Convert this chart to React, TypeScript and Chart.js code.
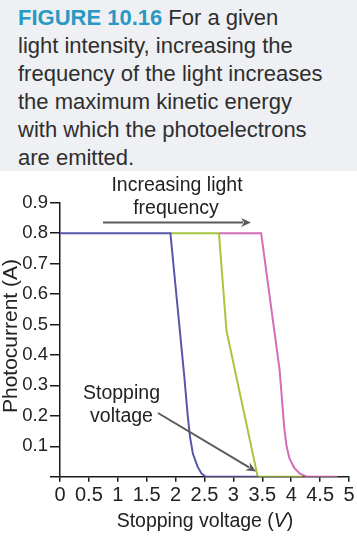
import React, { useEffect, useRef } from "react";
import { Chart, registerables } from "chart.js";

Chart.register(...registerables);

// ---- data ----
const blueVoltage = [0, 1.91, 2.15, 2.21, 2.25, 2.3, 2.38, 2.45, 2.52, 3.43];
const blueCurrent = [0.8, 0.8, 0.33, 0.2, 0.13, 0.075, 0.033, 0.01, 0, 0];
const greenVoltage = [1.91, 2.75, 2.88, 3.42, 4.2];
const greenCurrent = [0.8, 0.8, 0.48, 0, 0];
const pinkVoltage = [2.75, 3.48, 3.8, 3.88, 3.92, 3.97, 4.05, 4.15, 4.27, 4.8];
const pinkCurrent = [0.8, 0.8, 0.35, 0.16, 0.1, 0.06, 0.03, 0.01, 0, 0];

const xTicks = [0, 0.5, 1, 1.5, 2, 2.5, 3, 3.5, 4, 4.5, 5];
const xTickLabels = ["0", "0.5", "1", "1.5", "2", "2.5", "3", "3.5", "4", "4.5", "5"];
const yTicks = [0, 0.1, 0.2, 0.3, 0.4, 0.5, 0.6, 0.7, 0.8, 0.9];
const yTickLabels = ["", "0.1", "0.2", "0.3", "0.4", "0.5", "0.6", "0.7", "0.8", "0.9"];

const titleLines = [
  "light intensity, increasing the",
  "frequency of the light increases",
  "the maximum kinetic energy",
  "with which the photoelectrons",
  "are emitted.",
];

const FONT = '"Liberation Sans", Arial, Helvetica, sans-serif';

const annotationPlugin = {
  id: "annotations",
  afterDraw(chart: any) {
    const ctx = chart.ctx as CanvasRenderingContext2D;
    ctx.save();
    ctx.fillStyle = "#222";
    ctx.textBaseline = "alphabetic";
    ctx.textAlign = "center";
    ctx.font = `19.5px ${FONT}`;
    ctx.fillText("Increasing light", 177, 191);
    ctx.fillText("frequency", 176, 213.5);
    ctx.fillText("Stopping", 121.5, 399);
    ctx.fillText("voltage", 121.5, 421.5);

    const arrow = (x1: number, y1: number, x2: number, y2: number) => {
      const ang = Math.atan2(y2 - y1, x2 - x1);
      const hl = 10;
      const hw = 4.5;
      ctx.strokeStyle = "#5a5a5a";
      ctx.fillStyle = "#5a5a5a";
      ctx.lineWidth = 2;
      ctx.beginPath();
      ctx.moveTo(x1, y1);
      ctx.lineTo(x2 - Math.cos(ang) * hl * 0.8, y2 - Math.sin(ang) * hl * 0.8);
      ctx.stroke();
      ctx.beginPath();
      ctx.moveTo(x2, y2);
      ctx.lineTo(
        x2 - Math.cos(ang) * hl - Math.sin(ang) * hw,
        y2 - Math.sin(ang) * hl + Math.cos(ang) * hw
      );
      ctx.lineTo(
        x2 - Math.cos(ang) * hl * 0.7,
        y2 - Math.sin(ang) * hl * 0.7
      );
      ctx.lineTo(
        x2 - Math.cos(ang) * hl + Math.sin(ang) * hw,
        y2 - Math.sin(ang) * hl - Math.cos(ang) * hw
      );
      ctx.closePath();
      ctx.fill();
    };
    arrow(103, 222.5, 251, 222.5);
    arrow(158, 413, 256, 471.5);

    // x axis title with italic V
    ctx.fillStyle = "#222";
    ctx.textAlign = "left";
    const p1 = "Stopping voltage (";
    const p2 = "V";
    const p3 = ")";
    ctx.font = `19.5px ${FONT}`;
    const w1 = ctx.measureText(p1).width;
    const w3 = ctx.measureText(p3).width;
    ctx.font = `italic 19.5px ${FONT}`;
    const w2 = ctx.measureText(p2).width;
    const total = w1 + w2 + w3;
    let x = 205 - total / 2;
    const by = 527;
    ctx.font = `19.5px ${FONT}`;
    ctx.fillText(p1, x, by);
    x += w1;
    ctx.font = `italic 19.5px ${FONT}`;
    ctx.fillText(p2, x, by);
    x += w2;
    ctx.font = `19.5px ${FONT}`;
    ctx.fillText(p3, x, by);

    // y axis title
    ctx.save();
    ctx.translate(16.5, 336);
    ctx.rotate(-Math.PI / 2);
    ctx.textAlign = "center";
    ctx.font = `21px ${FONT}`;
    ctx.fillText("Photocurrent (A)", 0, 0);
    ctx.restore();
    ctx.restore();
  },
};

export default function App() {
  const canvasRef = useRef<HTMLCanvasElement | null>(null);

  useEffect(() => {
    if (!canvasRef.current) return;
    const mk = (xs: number[], ys: number[]) => xs.map((x, i) => ({ x, y: ys[i] }));
    const chart = new Chart(canvasRef.current, {
      type: "line",
      data: {
        datasets: [
          {
            label: "blue",
            data: mk(blueVoltage, blueCurrent),
            borderColor: "#5657a9",
            borderWidth: 2,
            pointRadius: 0,
            tension: 0,
            fill: false,
          },
          {
            label: "green",
            data: mk(greenVoltage, greenCurrent),
            borderColor: "#a5c63e",
            borderWidth: 2,
            pointRadius: 0,
            tension: 0,
            fill: false,
          },
          {
            label: "pink",
            data: mk(pinkVoltage, pinkCurrent),
            borderColor: "#d56cb9",
            borderWidth: 2,
            pointRadius: 0,
            tension: 0,
            fill: false,
          },
        ],
      },
      options: {
        animation: false,
        responsive: false,
        maintainAspectRatio: false,
        layout: { padding: { top: 202.7, right: 8, left: 0, bottom: 0 } },
        plugins: {
          legend: { display: false },
          tooltip: { enabled: false },
        },
        scales: {
          x: {
            type: "linear",
            min: 0,
            max: 5,
            afterBuildTicks: (scale: any) => {
              scale.ticks = xTicks.map((v) => ({ value: v }));
            },
            afterFit: (scale: any) => {
              scale.height = 60.3;
            },
            ticks: {
              autoSkip: false,
              maxRotation: 0,
              minRotation: 0,
              padding: 2,
              color: "#222",
              font: { family: FONT, size: 20 },
              callback: (_v: any, i: number) => xTickLabels[i],
            },
            grid: {
              drawOnChartArea: false,
              drawTicks: true,
              tickLength: 5,
              color: "#1a1a1a",
              lineWidth: 1.5,
            },
            border: { display: true, color: "#1a1a1a", width: 1.5 },
          },
          y: {
            type: "linear",
            min: 0,
            max: 0.9,
            afterBuildTicks: (scale: any) => {
              scale.ticks = yTicks.map((v) => ({ value: v }));
            },
            afterFit: (scale: any) => {
              scale.width = 60;
            },
            ticks: {
              autoSkip: false,
              padding: 2,
              color: "#222",
              font: { family: FONT, size: 18.5 },
              callback: (_v: any, i: number) => yTickLabels[i],
            },
            grid: {
              drawOnChartArea: false,
              drawTicks: true,
              tickLength: 10,
              color: "#1a1a1a",
              lineWidth: 1.5,
            },
            border: { display: true, color: "#1a1a1a", width: 1.5 },
          },
        },
      },
      plugins: [annotationPlugin],
    } as any);
    return () => chart.destroy();
  }, []);

  return (
    <div
      style={{
        position: "absolute",
        left: 0,
        top: 0,
        width: 357,
        height: 537,
        background: "#ffffff",
        overflow: "hidden",
      }}
    >
      <div
        style={{
          position: "absolute",
          left: 0,
          top: 0,
          width: 357,
          height: 171,
          background: "#eef0f3",
          boxSizing: "border-box",
          paddingLeft: 18,
          paddingTop: 4,
          fontFamily: FONT,
          fontSize: 22,
          lineHeight: "28px",
          color: "#2e2e2e",
          whiteSpace: "nowrap",
        }}
      >
        <span style={{ color: "#2a98c4", fontWeight: "bold", marginRight: 6 }}>
          FIGURE 10.16
        </span>
        For a given
        {titleLines.map((l, i) => (
          <div key={i}>{l}</div>
        ))}
      </div>
      <canvas
        ref={canvasRef}
        width={357}
        height={537}
        style={{ position: "absolute", left: 0, top: 0, width: 357, height: 537 }}
      />
    </div>
  );
}
